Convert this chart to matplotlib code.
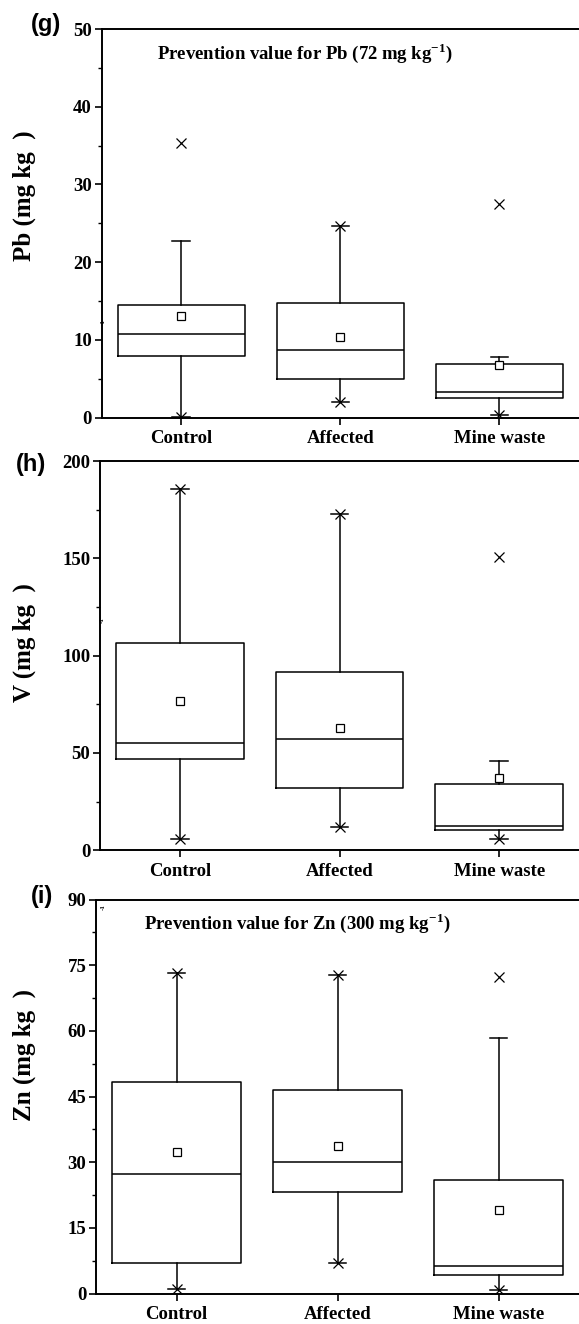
import matplotlib
matplotlib.use('Agg')
import matplotlib.pyplot as plt
from matplotlib.ticker import MultipleLocator

plt.rcParams['font.family'] = ['Liberation Serif', 'DejaVu Serif']
plt.rcParams['font.weight'] = 'bold'
plt.rcParams['mathtext.fontset'] = 'custom'
plt.rcParams['mathtext.rm'] = 'Liberation Serif:bold'
plt.rcParams['mathtext.bf'] = 'Liberation Serif:bold'

# categories
cats = ['Control', 'Affected', 'Mine waste']

# Pb (g)
pb_q1 = [7.95, 5.0, 2.5]
pb_med = [10.8, 8.7, 3.3]
pb_q3 = [14.5, 14.7, 6.9]
pb_lo = [0.05, 1.96, 0.3]
pb_hi = [22.75, 24.6, 7.8]
pb_mean = [13.1, 10.4, 6.8]
pb_x = [[0.05, 35.3], [1.96, 24.6], [0.3, 27.5]]

# V (h)
v_q1 = [47.0, 32.0, 10.6]
v_med = [55.2, 57.2, 12.6]
v_q3 = [106.6, 91.6, 34.2]
v_lo = [5.8, 12.0, 5.8]
v_hi = [185.4, 172.7, 45.9]
v_mean = [76.7, 62.8, 37.3]
v_x = [[5.8, 185.4], [12.0, 172.7], [5.8, 150.7]]

# Zn (i)
zn_q1 = [7.0, 23.2, 4.2]
zn_med = [27.3, 30.0, 6.35]
zn_q3 = [48.3, 46.5, 25.9]
zn_lo = [1.0, 6.9, 0.8]
zn_hi = [73.1, 72.7, 58.4]
zn_mean = [32.4, 33.6, 19.1]
zn_x = [[1.0, 73.1], [6.9, 72.7], [0.8, 72.2]]

W, H = 579, 1324
fig = plt.figure(figsize=(W / 100, H / 100), dpi=100)


def px(x, y):
    return x / W, 1 - y / H


def panel(left, top, bottom, q1, med, q3, lo, hi, mean, xs, ymax, major, minor,
          letter, letter_xy, ylabel, label_y, stray_xy, title=None, title_xy=None):
    ax = fig.add_axes([left / W, 1 - bottom / H, 1 - left / W, (bottom - top) / H])
    stats = []
    for i in range(3):
        stats.append(dict(med=med[i], q1=q1[i], q3=q3[i], whislo=lo[i], whishi=hi[i],
                          mean=mean[i], fliers=xs[i], label=cats[i]))
    lw = 1.1
    ax.bxp(stats, positions=[1, 2, 3], widths=0.8, capwidths=0.11,
           showmeans=True, showfliers=True,
           boxprops=dict(color='black', linewidth=lw),
           whiskerprops=dict(color='black', linewidth=lw),
           capprops=dict(color='black', linewidth=lw),
           medianprops=dict(color='black', linewidth=lw),
           meanprops=dict(marker='s', markerfacecolor='white', markeredgecolor='black',
                          markersize=5.3, markeredgewidth=0.9),
           flierprops=dict(marker='x', markeredgecolor='black', markersize=7,
                           markeredgewidth=0.9))
    ax.set_xlim(0.5, 3.5)
    ax.set_ylim(0, ymax)
    ax.yaxis.set_major_locator(MultipleLocator(major))
    ax.yaxis.set_minor_locator(MultipleLocator(minor))
    ax.set_xticks([1, 2, 3])
    ax.set_xticklabels(cats)
    ax.spines['right'].set_visible(False)
    for s in ['left', 'bottom', 'top']:
        ax.spines[s].set_linewidth(1.4)
    ax.tick_params(axis='both', which='major', direction='out', length=5, width=1.2,
                   labelsize=13.5, pad=2)
    ax.tick_params(axis='y', which='minor', direction='out', length=3, width=1.0)
    ax.tick_params(axis='x', which='major', pad=4)
    for t in ax.get_xticklabels() + ax.get_yticklabels():
        t.set_fontweight('bold')
    fig.text(*px(*letter_xy), letter, family='Liberation Sans', fontsize=17,
             fontweight='bold', ha='center', va='center')
    fig.text(*px(24, label_y), ylabel, fontsize=18, fontweight='bold', rotation=90,
             ha='center', va='center')
    fig.text(*px(*stray_xy), '-1', fontsize=5, fontweight='bold', rotation=90,
             ha='center', va='center')
    if title:
        fig.text(*px(*title_xy), title, fontsize=13.5, fontweight='bold',
                 ha='center', va='center')
    return ax


panel(101.7, 29, 417.5, pb_q1, pb_med, pb_q3, pb_lo, pb_hi, pb_mean, pb_x,
      50, 10, 5, '(g)', (46, 24), 'Pb (mg kg  )', 196, (103, 322),
      title=r'Prevention value for Pb (72 mg kg$^{-1}$)', title_xy=(305, 53))
panel(100, 461, 850.3, v_q1, v_med, v_q3, v_lo, v_hi, v_mean, v_x,
      200, 50, 25, '(h)', (31, 464), 'V (mg kg  )', 643, (102, 620))
panel(96, 899.5, 1293.5, zn_q1, zn_med, zn_q3, zn_lo, zn_hi, zn_mean, zn_x,
      90, 15, 7.5, '(i)', (42, 896), 'Zn (mg kg  )', 1055, (103, 907),
      title=r'Prevention value for Zn (300 mg kg$^{-1}$)', title_xy=(297, 923))

fig.savefig('out.png', dpi=100)
